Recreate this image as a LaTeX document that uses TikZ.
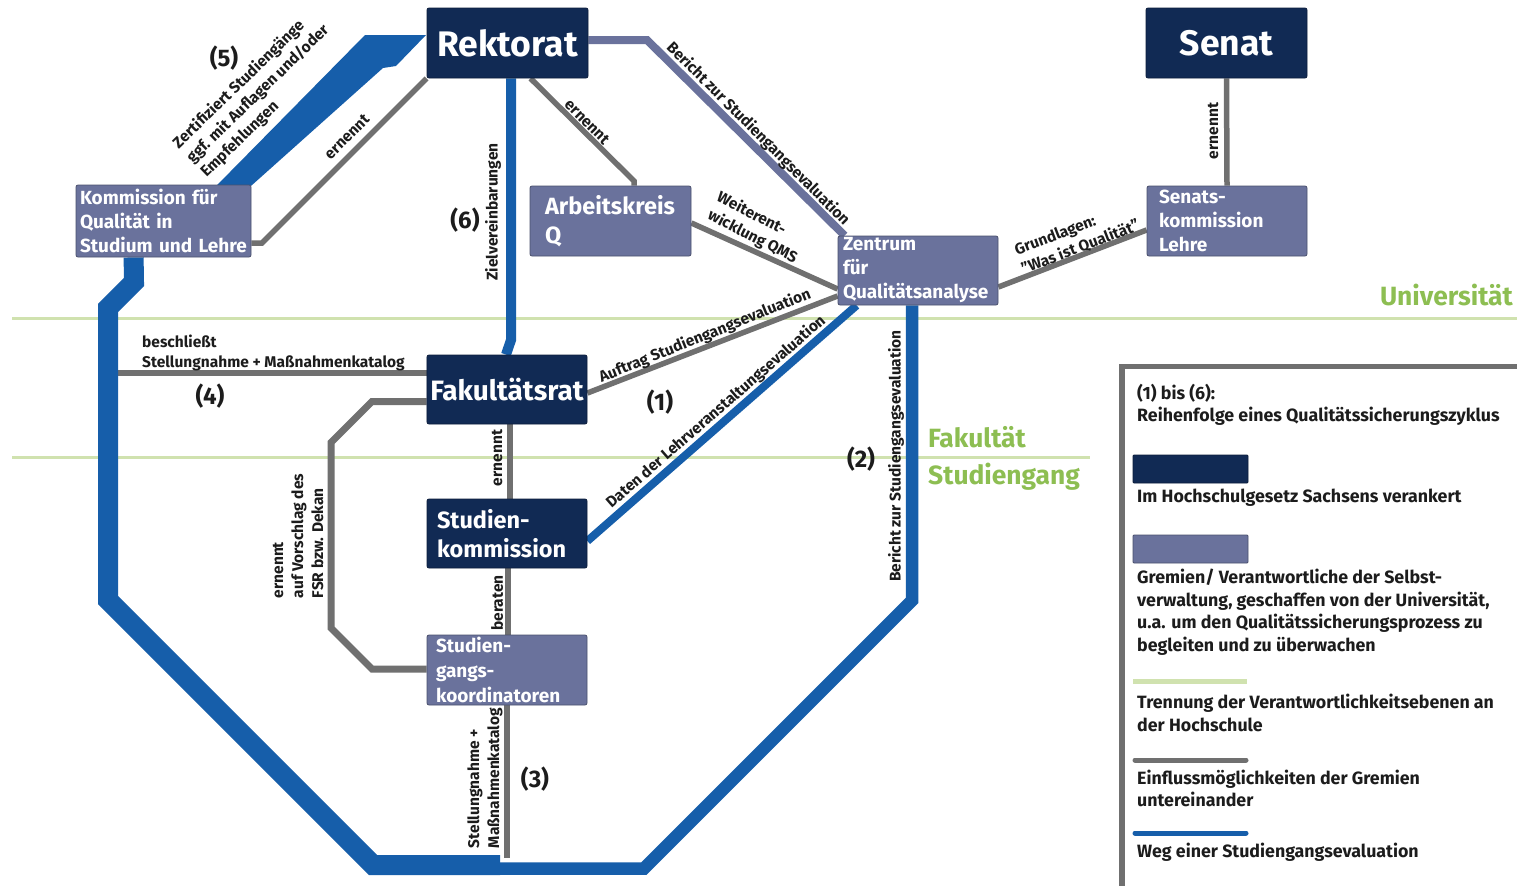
\documentclass[tikz,border=0pt]{standalone}
\usepackage{fontspec}
\setmainfont{Fira Sans}
\usetikzlibrary{calc}
\pgfdeclarelayer{bg}
\pgfsetlayers{bg,main}
\definecolor{navy}{RGB}{17,42,84}
\definecolor{slate}{RGB}{106,114,156}
\definecolor{evblue}{RGB}{22,94,170}
\definecolor{infgrey}{RGB}{112,112,112}
\definecolor{sepgreen}{RGB}{208,226,175}
\definecolor{txtgreen}{RGB}{141,190,82}
\definecolor{labcol}{RGB}{28,28,28}
\begin{document}
\begin{tikzpicture}[x=1pt,y=-1pt,
  box/.style={rectangle, rounded corners=2pt, inner ysep=0pt, text=white, line width=0.8pt},
  darkbox/.style={box, fill=navy, draw=navy!70!black},
  lightbox/.style={box, fill=slate, draw=slate!70!black},
  conn/.style={line join=miter, line cap=butt},
  gline/.style={conn, draw=infgrey, line width=5.5pt},
  bline/.style={conn, draw=evblue},
  lbl/.style={font=\bfseries\fontsize{15.5}{20}\selectfont, text=labcol, inner sep=0pt, align=left},
  num/.style={font=\bfseries\fontsize{24}{26}\selectfont, text=labcol, inner sep=0pt},
  leg/.style={font=\bfseries\fontsize{17.8}{22}\selectfont, text=labcol, inner sep=0pt, anchor=base west},
  grn/.style={font=\bfseries\fontsize{26.4}{28}\selectfont, text=txtgreen, inner sep=0pt}]
\useasboundingbox (0,0) rectangle (1517,886);

% ---------- boxes ----------
\node[darkbox, minimum width=161pt, minimum height=70pt, font=\bfseries\fontsize{35.5}{38}\selectfont] (rek) at (507.5,43) {Rektorat};
\node[darkbox, minimum width=161pt, minimum height=70pt, font=\bfseries\fontsize{35.5}{38}\selectfont] (senat) at (1226.5,43) {Senat};
\node[lightbox, text width=167pt, inner xsep=4pt, minimum height=72pt, align=left, font=\bfseries\fontsize{19}{24}\selectfont] (komm) at (163.5,221) {Kommission für\\Qualität in\\Studium und Lehre};
\node[lightbox, text width=131pt, inner xsep=15pt, minimum height=70pt, align=left, font=\bfseries\fontsize{23.5}{29}\selectfont] (ak) at (610.5,221) {Arbeitskreis\\Q};
\node[lightbox, text width=150pt, inner xsep=5pt, minimum height=69pt, align=left, font=\bfseries\fontsize{19}{24}\selectfont] (zq) at (918,270.5) {Zentrum\\für\\Qualitätsanalyse};
\node[lightbox, text width=136pt, inner xsep=12pt, minimum height=70pt, align=left, font=\bfseries\fontsize{19}{24}\selectfont] (sk) at (1227,221) {Senats-\\kommission\\Lehre};
\node[darkbox, minimum width=160pt, minimum height=69pt, font=\bfseries\fontsize{28}{30}\selectfont] (fr) at (507,389.5) {Fakultätsrat};
\node[darkbox, text width=140pt, inner xsep=10pt, minimum height=69pt, align=left, font=\bfseries\fontsize{23.5}{29}\selectfont] (stk) at (507,533.5) {Studien-\\kommission};
\node[lightbox, text width=142pt, inner xsep=9pt, minimum height=70pt, align=left, font=\bfseries\fontsize{19}{25}\selectfont] (sgk) at (507,670) {Studien-\\gangs-\\koordinatoren};

% ---------- coordinates ----------
\coordinate (c1) at (262,243);
\coordinate (c2) at (634,181);
\coordinate (c3) at (647,40);
\coordinate (c6) at (511,340);
\coordinate (c7) at (507,858);
\coordinate (c8) at (118,373);
\coordinate (f1) at (372,401.5);
\coordinate (f2) at (331,442.5);
\coordinate (f3) at (331,628);
\coordinate (f4) at (372,669);
\coordinate (b1) at (134,282);
\coordinate (b2) at (108,308);
\coordinate (b3) at (108,600);
\coordinate (b4) at (373,865);
\coordinate (b5) at (500,865);
\coordinate (r1) at (495,868.5);
\coordinate (r2) at (644,868.5);
\coordinate (r3) at (912,600.5);

\begin{pgfonlayer}{bg}
\fill[white] (0,0) rectangle (1517,886);
% level separators
\draw[sepgreen, line width=3pt] (12,318) -- (1517,318);
\draw[sepgreen, line width=3pt] (12,457) -- (1090,457);

% grey influence lines
\draw[gline] (rek.south west) -- (c1) -- (c1 -| komm.east);
\draw[gline] ($(rek.south)+(23,0)$) -- (c2) -- (c2 |- ak.north);
\draw[gline] ($(zq.east)+(0,16.5)$) -- ($(sk.west)+(0,9)$);
\draw[gline] (senat.south) -- (sk.north);
\draw[gline] ($(ak.east)+(0,2)$) -- ($(zq.west)+(0,18.5)$);
\draw[gline] ($(fr.east)+(0,3.5)$) -- ($(zq.west)+(0,25.5)$);
\draw[gline] ($(fr.south)+(3,0)$) -- ($(stk.north)+(3,0)$);
\draw[gline] ($(stk.south)+(1,0)$) -- ($(sgk.north)+(1,0)$);
\draw[gline] (sgk.south) -- (c7);
\draw[gline] (fr.west |- c8) -- (c8);
\draw[gline, line width=7pt] (fr.west |- f1) -- (f1) -- (f2) -- (f3) -- (f4) -- (sgk.west |- f4);

% slate report line
\draw[conn, draw=slate, line width=8pt] (rek.east |- c3) -- (c3) -- ($(zq.north west)+(7,0)$);

% blue evaluation path
\draw[bline, line width=8pt] ($(stk.east)+(0,7.5)$) -- ($(zq.south west)+(19,0)$);
\draw[bline, line width=10pt] ($(rek.south)+(3.5,0)$) -- (c6) -- ($(fr.north)+(-1,0)$);
\draw[bline, line width=20pt] ($(komm.south west)+(58,0)$) -- (b1) -- (b2) -- (b3) -- (b4) -- (b5);
\draw[bline, line width=12.5pt] (r1) -- (r2) -- (r3) -- ($(zq.south)+(-6,0)$);
\fill[evblue] ($(komm.north west)+(141,1)$) -- (365,35) -- (426,35) -- (396,66) -- (383,68) -- ($(komm.north east)+(0,1)$) -- cycle;

% legend frame
\draw[draw=infgrey, line width=5.5pt, line join=miter] (1517,366.5) -- (1122,366.5) -- (1122,886);
\end{pgfonlayer}

% ---------- labels ----------
\node[lbl, rotate=44] (t5) at (258,94) {Zertifiziert Studiengänge\\ggf. mit Auflagen und/oder\\Empfehlungen};
\node[num] (n5) at (224,58) {(5)};
\node[lbl, rotate=45] (te1) at (347,137) {ernennt};
\node[lbl, rotate=90] (tziel) at (493,212) {Zielvereinbarungen};
\node[num] (n6) at (465,220) {(6)};
\node[lbl, rotate=-45] (te2) at (587,122) {ernennt};
\node[lbl, rotate=-45] (tber1) at (758,134) {Bericht zur Studiengangsevaluation};
\node[lbl, rotate=-27] (twei) at (757,228) {Weiterent-\\wicklung QMS};
\node[lbl, rotate=21] (tgrund) at (1077,238) {Grundlagen:\\”Was ist Qualität”};
\node[lbl, rotate=90] (te3) at (1213,131) {ernennt};
\node[lbl, rotate=22] (tauf) at (705,336) {Auftrag Studiengangsevaluation};
\node[lbl, rotate=41] (tdat) at (716,412) {Daten der Lehrveranstaltungsevaluation};
\node[num] (n1) at (660,402) {(1)};
\node[lbl, rotate=90] (tber2) at (896,456) {Bericht zur Studiengangsevaluation};
\node[num] (n2) at (861,459) {(2)};
\node[lbl, anchor=base west] (tbes1) at (142,347) {beschließt};
\node[lbl, anchor=base west] (tbes2) at (142,367) {Stellungnahme + Maßnahmenkatalog};
\node[num] (n4) at (210,396) {(4)};
\node[lbl, rotate=90] (tfsr) at (298,536) {ernennt\\auf Vorschlag des\\FSR bzw. Dekan};
\node[lbl, rotate=90] (te4) at (497,458) {ernennt};
\node[lbl, rotate=90] (tbera) at (497,603) {beraten};
\node[lbl, rotate=90] (tstell) at (485,778) {Stellungnahme +\\Maßnahmenkatalog};
\node[num] (n3) at (535,779) {(3)};

% level names
\node[grn, anchor=base east] (guni) at (1513,305) {Universität};
\node[grn, anchor=base west] (gfak) at (928,447) {Fakultät};
\node[grn, anchor=base west] (gstud) at (928,484) {Studiengang};

% ---------- legend ----------
\node[leg] (l1) at (1137,399) {(1) bis (6):};
\node[leg] (l2) at (1137,421) {Reihenfolge eines Qualitätssicherungszyklus};
\node[darkbox, minimum width=115pt, minimum height=28pt, rounded corners=1pt] (legdark) at (1190.5,469) {};
\node[leg] (l3) at (1137,502) {Im Hochschulgesetz Sachsens verankert};
\node[lightbox, minimum width=115pt, minimum height=28pt, rounded corners=1pt] (leglight) at (1190.5,549) {};
\node[leg] (l4) at (1137,583) {Gremien/ Verantwortliche der Selbst-};
\node[leg] (l5) at (1137,606) {verwaltung, geschaffen von der Universität,};
\node[leg] (l6) at (1137,628) {u.a. um den Qualitätssicherungsprozess zu};
\node[leg] (l7) at (1137,651) {begleiten und zu überwachen};
\coordinate (g1) at (1133,681);
\coordinate (g2) at (1247,681);
\draw[sepgreen, line width=5pt] (g1) -- (g2);
\node[leg] (l8) at (1137,708) {Trennung der Verantwortlichkeitsebenen an};
\node[leg] (l9) at (1137,731) {der Hochschule};
\coordinate (g3) at (1135,760);
\coordinate (g4) at (1246,760);
\draw[infgrey, line width=5pt, line cap=round] (g3) -- (g4);
\node[leg] (l10) at (1137,784) {Einflussmöglichkeiten der Gremien};
\node[leg] (l11) at (1137,806) {untereinander};
\coordinate (g5) at (1135,833);
\coordinate (g6) at (1246,833);
\draw[evblue, line width=5pt, line cap=round] (g5) -- (g6);
\node[leg] (l12) at (1137,857) {Weg einer Studiengangsevaluation};
\end{tikzpicture}
\end{document}
